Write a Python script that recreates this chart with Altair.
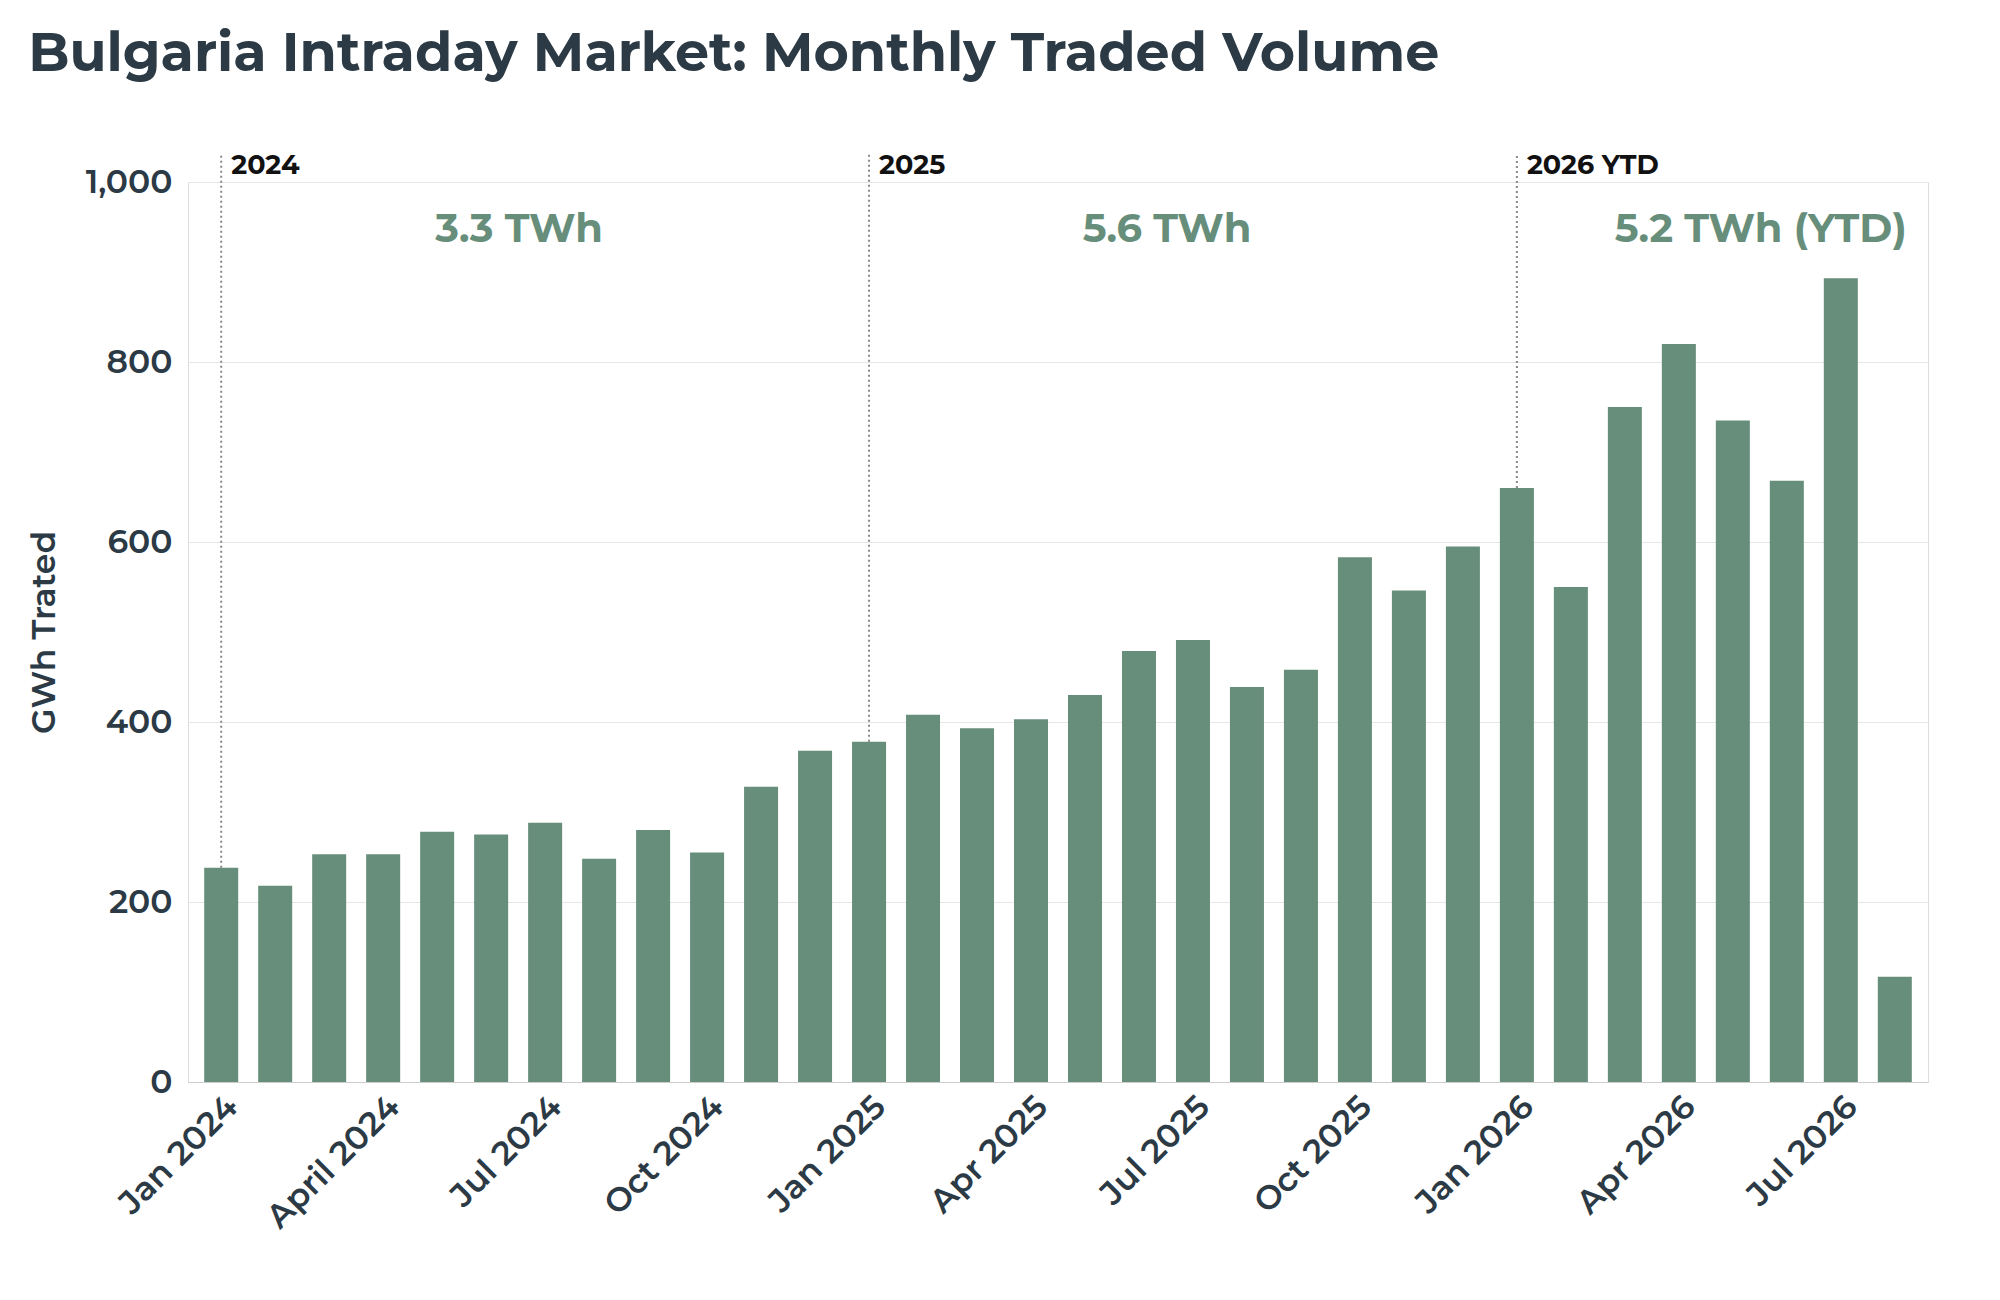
import altair as alt
import pandas as pd

months = [f"{y}-{m:02d}" for y in (2024, 2025, 2026) for m in range(1, 13)][:32]
volumes = [238, 218, 253, 253, 278, 275, 288, 248, 280, 255, 328, 368,
           378, 408, 393, 403, 430, 479, 491, 439, 458, 583, 546, 595,
           660, 550, 750, 820, 735, 668, 893, 117]
tick_labels = ["Jan 2024", "", "", "April 2024", "", "", "Jul 2024", "", "", "Oct 2024", "", "",
               "Jan 2025", "", "", "Apr 2025", "", "", "Jul 2025", "", "", "Oct 2025", "", "",
               "Jan 2026", "", "", "Apr 2026", "", "", "Jul 2026", ""]

year_starts = ["2024-01", "2025-01", "2026-01"]
year_names = ["2024", "2025", "2026 YTD"]
year_totals = ["3.3 TWh", "5.6 TWh", "5.2 TWh (YTD)"]
total_months = ["2024-06", "2025-06", "2026-05"]

GREEN = "#678e7b"
INK = "#2b3a45"
FONT = "Montserrat, Inter, Noto Sans, sans-serif"

bars_df = pd.DataFrame({"month": months, "volume": volumes})
rules_df = pd.DataFrame({
    "month": year_starts,
    "volume": [volumes[months.index(m)] for m in year_starts],
    "name": year_names,
})
totals_df = pd.DataFrame({"month": total_months, "text": year_totals})

keys = "[" + ",".join(f"'{m}'" for m in months) + "]"
labs = "[" + ",".join(f"'{t}'" for t in tick_labels) + "]"
label_expr = f"{labs}[indexof({keys}, datum.value)]"

x = alt.X("month:O", sort=months,
          scale=alt.Scale(domain=months, paddingInner=0.37, paddingOuter=0.3),
          axis=alt.Axis(title=None, labelExpr=label_expr, labelAngle=-45, labelAlign="right",
                        labelBaseline="top", labelFontSize=33, labelColor=INK, labelFont=FONT,
                        labelFontWeight=600, ticks=False, domainColor="#cccccc", labelPadding=8))
yscale = alt.Scale(domain=[0, 1000])

bars = alt.Chart(bars_df).mark_bar(color=GREEN).encode(
    x=x,
    y=alt.Y("volume:Q", scale=yscale,
            axis=alt.Axis(title="GWh Trated", titleFontSize=33, titleColor=INK, titleFont=FONT,
                          titleFontWeight=600, labelFontSize=33, labelColor=INK, labelFont=FONT,
                          labelFontWeight=600, domain=False, ticks=False, labelPadding=16,
                          gridColor="#e6e6e6", values=[0, 200, 400, 600, 800, 1000],
                          format=",.0f", titlePadding=24)),
)

rules = alt.Chart(rules_df).mark_rule(color="#888888", strokeDash=[2, 3], strokeWidth=2).encode(
    x=alt.X("month:O", sort=months),
    y="volume:Q",
    y2=alt.value(-28),
)

year_text = alt.Chart(rules_df).mark_text(
    align="left", baseline="middle", dx=10, fontSize=27, fontWeight="bold", color="#111111", font=FONT
).encode(x=alt.X("month:O", sort=months), y=alt.value(-16), text="name:N")

total_text = alt.Chart(totals_df).mark_text(
    align="center", baseline="middle", dx=28, fontSize=40, fontWeight="bold", color=GREEN, font=FONT
).encode(x=alt.X("month:O", sort=months), y=alt.value(48), text="text:N")

chart = alt.layer(bars, rules, year_text, total_text).properties(
    width=1740, height=900,
    padding={"top": 20, "left": 20, "right": 10, "bottom": 10},
    title=alt.TitleParams("Bulgaria Intraday Market: Monthly Traded Volume", anchor="start",
                          fontSize=54, fontWeight="bold", color=INK, font=FONT, offset=70),
).configure_view(strokeWidth=0).configure(background="white")

chart.save("out.html", embed_options={"renderer": "svg", "actions": False})
